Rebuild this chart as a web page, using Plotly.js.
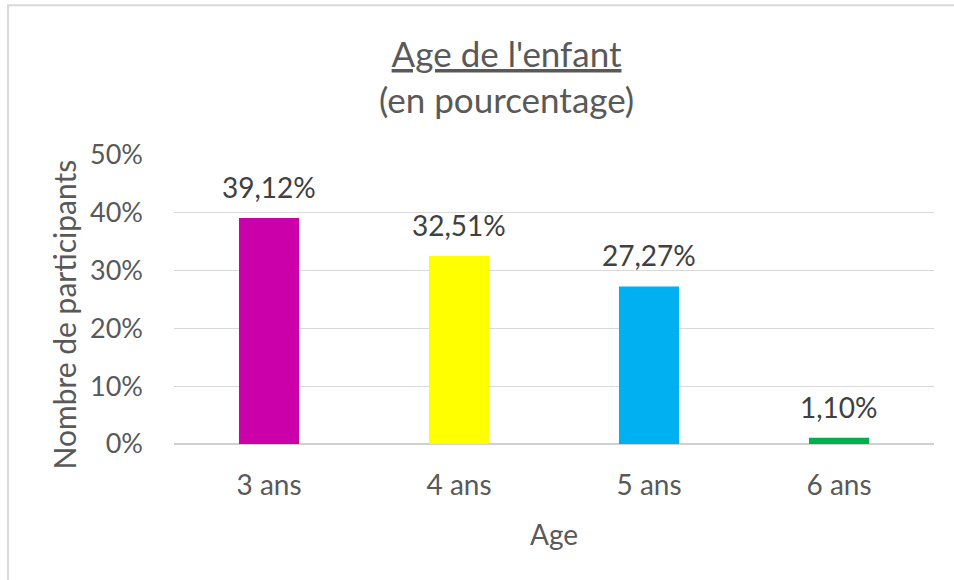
<!DOCTYPE html>
<html>
<head>
<meta charset="utf-8">
<script src="https://cdn.plot.ly/plotly-3.0.1.min.js"></script>
<style>html,body{margin:0;padding:0;background:#fff;}#chart{width:954px;height:580px;}</style>
</head>
<body>
<div id="chart"></div>
<script>
const categories = ["3 ans", "4 ans", "5 ans", "6 ans"];
const values = [39.12, 32.51, 27.27, 1.10];
const valueLabels = ["39,12%", "32,51%", "27,27%", "1,10%"];
const barColors = ["#CC00AA", "#FFFF00", "#00B0F0", "#00B050"];
const yTickVals = [0, 10, 20, 30, 40, 50];
const yTickText = ["0%", "10%", "20%", "30%", "40%", "50%"];

const FONT = "Lato, 'Open Sans', sans-serif";
const TXT = "#595959";

const trace = {
  type: "bar",
  x: categories,
  y: values,
  marker: { color: barColors },
  hoverinfo: "none"
};

const labelAnnotations = categories.map((c, i) => ({
  x: c, y: values[i], xref: "x", yref: "y",
  text: valueLabels[i],
  showarrow: false,
  yanchor: "bottom",
  yshift: 12,
  font: { family: FONT, size: 28, color: "#404040" }
}));

const yTitleAnnotation = {
  text: "Nombre de participants",
  xref: "paper", yref: "paper",
  x: 0, y: 0.5, xanchor: "center", yanchor: "middle",
  xshift: -111, yshift: -15,
  textangle: -90,
  showarrow: false,
  font: { family: FONT, size: 30, color: TXT }
};

const layout = {
  width: 954,
  height: 580,
  margin: { l: 174, r: 20, t: 155, b: 135.5 },
  paper_bgcolor: "#fff",
  plot_bgcolor: "#fff",
  bargap: 0.684,
  showlegend: false,
  font: { family: FONT, color: TXT },
  title: {
    text: "<u>Age de l'enfant</u><br>(en pourcentage)",
    x: 0.531, xanchor: "center", xref: "container",
    y: 1 - 67 / 580, yanchor: "top", yref: "container",
    font: { family: FONT, size: 35, color: TXT }
  },
  xaxis: {
    type: "category",
    showgrid: false,
    showline: false,
    zeroline: false,
    ticks: "",
    ticklabelstandoff: 22,
    tickfont: { family: FONT, size: 28, color: TXT },
    title: { text: "Age", font: { family: FONT, size: 28, color: TXT }, standoff: 25 }
  },
  yaxis: {
    range: [0, 50],
    tickvals: yTickVals,
    ticktext: yTickText,
    showgrid: true,
    gridcolor: "#D9D9D9",
    gridwidth: 1.3,
    zeroline: true,
    zerolinecolor: "#D0D0D0",
    zerolinewidth: 2,
    showline: false,
    ticks: "",
    ticklabelstandoff: 30,
    tickfont: { family: FONT, size: 27, color: TXT }
  },
  annotations: labelAnnotations.concat([yTitleAnnotation]),
  shapes: [{
    type: "rect", xref: "paper", yref: "paper",
    x0: -0.2184, x1: 1.5, y0: -0.8, y1: 1.518,
    line: { color: "#D9D9D9", width: 2 },
    fillcolor: "rgba(0,0,0,0)", layer: "below"
  }]
};

Plotly.newPlot("chart", [trace], layout, { staticPlot: true, displayModeBar: false });
</script>
</body>
</html>
